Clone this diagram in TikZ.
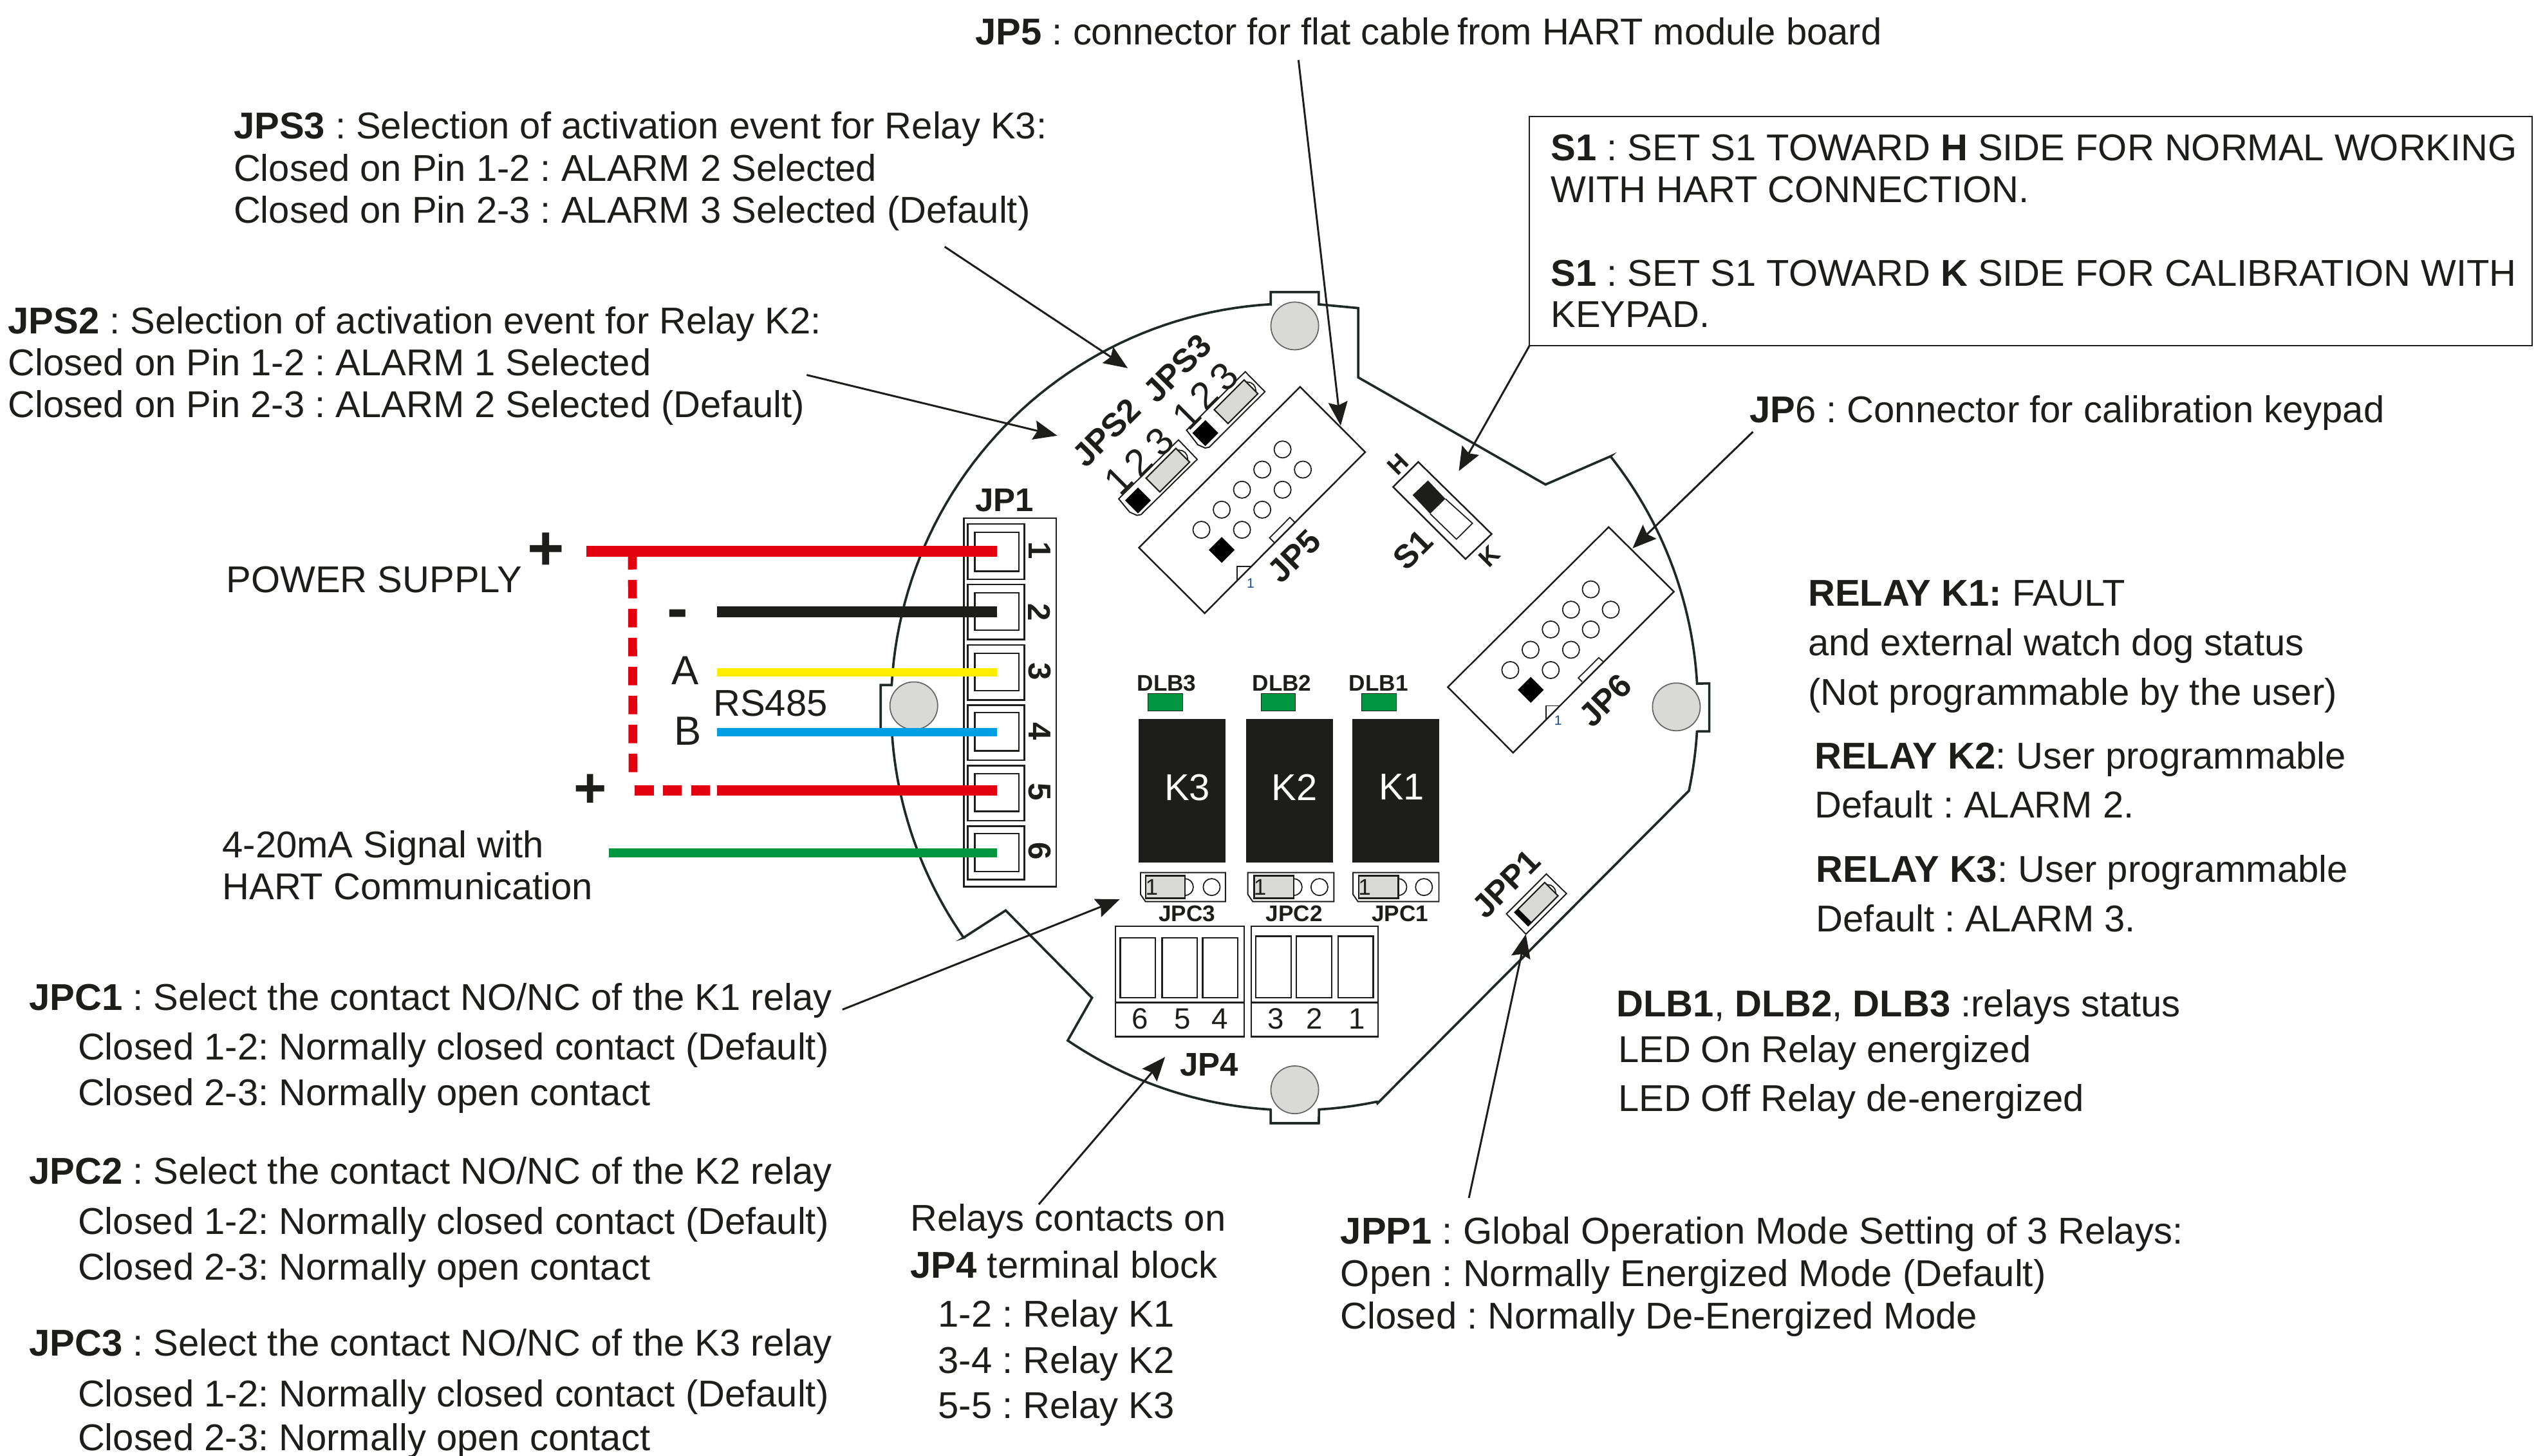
\documentclass[tikz,border=0pt]{standalone}
\usepackage{fontspec}
\setmainfont{Liberation Sans}
\usetikzlibrary{arrows.meta}
\frenchspacing
\definecolor{ink}{HTML}{1D1D1B}
\definecolor{boardline}{HTML}{1F2A27}
\definecolor{holegray}{HTML}{D9DAD8}
\definecolor{wred}{HTML}{E3000F}
\definecolor{wyellow}{HTML}{FFED00}
\definecolor{wblue}{HTML}{009FE3}
\definecolor{wgreen}{HTML}{009640}
\definecolor{pinblue}{HTML}{1D4E89}
\newcommand{\lbl}[4]{\node[txt] (#1) at (#2,#3) {#4};}
\newcommand{\fs}[1]{\fontsize{#1}{#1}\selectfont}
\tikzset{
  txt/.style={anchor=base west,inner sep=0pt,outer sep=0pt,text=ink,font=\fs{16.5}},
  rot/.style={anchor=center,inner sep=0pt,text=ink,rotate=45,font=\fs{14.5}\bfseries},
  ctr/.style={anchor=center,inner sep=0pt,text=ink},
  thin line/.style={draw=ink,line width=0.7pt},
  callout/.style={draw=ink,line width=0.85pt,-{Stealth[length=10.5pt,width=8.5pt,inset=1.5pt]}},
  hole/.style={fill=holegray,draw=gray!80!black,line width=0.5pt},
  pinhole/.style={draw=ink,line width=0.5pt,fill=white},
  jump/.style={fill=holegray,draw=ink,line width=0.6pt},
  relaybox/.style={fill=ink,draw=none},
  led/.style={fill=wgreen,draw=ink,line width=0.3pt},
  wire/.style={line cap=butt},
  blk/.style={fill=black,draw=none}
}
\begin{document}
\begin{tikzpicture}[x=0.0252168cm,y=-0.0252168cm]
\useasboundingbox (0,0) rectangle (1568,897);
% board outline
\draw[draw=boardline,line width=1.05pt,line join=miter]
  (782.9,187.5) -- (782.9,179.9) -- (812.5,179.9) -- (812.5,187.5) -- (836.8,189.8) -- (836.8,232.5)
  -- (952.2,298.5) -- (992.3,281.1)
  -- plot[domain=-38.4:-3.3,samples=30] ({797.5+248.5*cos(\x)},{435.5+248.5*sin(\x)})
  -- (1053.1,421) -- (1053.1,450.6) -- (1046,450.6)
  -- plot[domain=3.5:12,samples=8] ({797.5+248.5*cos(\x)},{435.5+248.5*sin(\x)})
  -- (848.7,679.7)
  -- plot[domain=78.2:86.5,samples=6] ({797.5+248.5*cos(\x)},{435.5+248.5*sin(\x)})
  -- (812.5,692) -- (782.9,692) -- (782.9,684)
  -- plot[domain=93.4:124.2,samples=25] ({797.5+248.5*cos(\x)},{435.5+248.5*sin(\x)})
  -- (672.8,614.7) -- (619.6,560.9) -- (593.6,577.7)
  -- plot[domain=145.1:176.4,samples=25] ({797.5+248.5*cos(\x)},{435.5+248.5*sin(\x)})
  -- (542.6,451) -- (542.6,422) -- (550,422)
  -- plot[domain=183.1:266.6,samples=50] ({797.5+248.5*cos(\x)},{435.5+248.5*sin(\x)})
  -- cycle;
% mounting holes
\foreach \p in {(797.7,200.8),(563,434.8),(1032.8,435.5),(797.7,671.4)} \draw[hole] \p circle (14.7);
% JP1
\draw[thin line,fill=white] (593.9,319.2) rectangle (650.8,546.3);
\foreach \a/\b/\c/\d in {322.7/356.9/327.9/352,360/394/365.2/388.2,397.3/431.2/402.4/425.4,434.4/468.4/439/462.6,471.7/505.7/476.7/499.8,508.9/541.9/513.6/537}{
  \draw[thin line] (596.2,\a) rectangle (631.1,\b);
  \draw[thin line] (600.5,\c) rectangle (627.8,\d);
}
\foreach \n/\y in {1/339,2/377,3/413.5,4/450.5,5/488,6/524.5}
  \node[ctr,rotate=-90,font=\fs{14}\bfseries] (pin\n) at (640.5,\y) {\n};
\node[ctr,font=\fs{14.5}\bfseries] (jp1) at (619,308.2) {JP1};
% wires
\coordinate (wa) at (361.3,339.7); \coordinate (wb) at (614.3,339.7);
\coordinate (wc) at (441.7,377); \coordinate (wd) at (614.3,377);
\coordinate (we) at (441.7,414.2); \coordinate (wf) at (614.3,414.2);
\coordinate (wg) at (441.7,451.1); \coordinate (wh) at (614.3,451.1);
\coordinate (wi) at (441.7,487); \coordinate (wj) at (614.3,487);
\coordinate (wk) at (375,525.4); \coordinate (wl) at (614.3,525.4);
\coordinate (wm) at (389.6,343); \coordinate (wn) at (390,475.7);
\coordinate (wo) at (391,487); \coordinate (wp) at (441,487);
\draw[wire,draw=wred,line width=4.7pt] (wa) -- (wb);
\draw[wire,draw=ink,line width=4.7pt] (wc) -- (wd);
\draw[wire,draw=wyellow,line width=3.5pt] (we) -- (wf);
\draw[wire,draw=wblue,line width=3.9pt] (wg) -- (wh);
\draw[wire,draw=wred,line width=4.7pt] (wi) -- (wj);
\draw[wire,draw=wgreen,line width=4.1pt] (wk) -- (wl);
\draw[wire,draw=wred,line width=3.9pt,dash pattern=on 8.2pt off 4.6pt] (wn) -- (wm);
\draw[wire,draw=wred,line width=4.7pt,dash pattern=on 8.4pt off 4.1pt] (wo) -- (wp);
% wire labels
\lbl{pws}{139.5}{365.2}{POWER SUPPLY}
\node[ctr,font=\fs{28}\bfseries] (plus1) at (336.2,339.7) {+};
\node[ctr,font=\fs{28}\bfseries] (minus) at (417.7,382) {-};
\node[ctr,font=\fs{25}\bfseries] (plus2) at (363.8,487.4) {+};
\node[ctr,font=\fs{18}] (wA) at (422.2,413) {A};
\node[ctr,font=\fs{18}] (wB) at (423.6,450.4) {B};
\lbl{rs}{439.5}{441}{RS485}
\lbl{sig1}{137}{528.5}{4-20mA Signal with}
\lbl{sig2}{137}{554}{HART Communication}
% relays
\foreach \n/\xa/\xb/\xl/\ya/\yb/\tx in {3/701.7/755/731.5/707.3/728.7/718.8,2/767.8/821.4/797.5/777/798/789.8,1/833.2/886.5/863.5/838.8/860.2/849.3}{
  \draw[relaybox] (\xa,443.1) rectangle (\xb,531.4);
  \node[ctr,text=white,font=\fs{16.5}] (k\n) at (\xl,485) {K\n};
  \draw[led] (\ya,427.4) rectangle (\yb,438.1);
  \node[ctr,font=\fs{10}\bfseries] (dlb\n) at (\tx,421) {DLB\n};
}
% JPC jumpers
\foreach \n/\x/\xe/\ja/\jb/\c/\t in {3/702.7/755/706/730/746.5/731.3,2/768.8/821.8/772.7/797/812.9/797.4,1/833.6/886.5/837.2/861.5/877.3/862.5}{
  \draw[thin line,line width=0.55pt] (\x,537.6) -- (\xe,537.6) -- (\xe,555.4) -- ({\x+3},555.4) -- (\x,551) -- cycle;
  \draw[pinhole] (\jb,546.5) circle (5.2);
  \draw[pinhole] (\c,546.5) circle (5.2);
  \draw[jump] (\ja,539.5) rectangle (\jb,553.4);
  \node[ctr,font=\fs{10}] (one\n) at ({\ja+3.6},546.5) {1};
  \node[ctr,font=\fs{10}\bfseries] (jpc\n) at (\t,563) {JPC\n};
}
% JP4
\draw[thin line] (687.3,570.6) rectangle (766.5,638.6);
\draw[thin line] (687.3,617.6) -- (766.5,617.6);
\draw[thin line] (770.8,570.6) rectangle (849,638.6);
\draw[thin line] (770.8,617.6) -- (849,617.6);
\foreach \a/\b in {690.2/711.9,715.9/737.6,740.9/762.5} \draw[thin line] (\a,577.7) rectangle (\b,614.7);
\foreach \a/\b in {773.7/795.4,798.7/820.4,824.4/846.1} \draw[thin line] (\a,576.7) rectangle (\b,614.7);
\foreach \n/\x in {6/702.4,5/728.4,4/751.7,3/786.2,2/809.9,1/836.2}
  \node[ctr,font=\fs{13}] (t\n) at (\x,627.7) {\n};
\node[ctr,font=\fs{14.5}\bfseries] (jp4) at (745,656) {JP4};
% JP5
\draw[thin line,fill=white] (801,238.3) -- (841.1,278.5) -- (742.2,377.8) -- (701.7,337.4) -- cycle;
\foreach \p in {(790.2,276.9),(777.7,289.3),(802.7,289.3),(765.2,301.7),(790.2,301.7),(752.7,314),(777.7,314),(740.2,326.4),(765.2,326.4)}
  \draw[pinhole] \p circle (5.2);
\draw[blk] (752.7,330.8) -- (760.7,338.8) -- (752.7,346.8) -- (744.7,338.8) -- cycle;
\draw[thin line,line width=0.5pt] (797.7,321.8) -- (794.7,318.8) -- (782.2,331.4) -- (785.2,334.4);
\draw[thin line,line width=0.5pt] (762.2,357.8) -- (762.2,348.9) -- (771,348.9);
\node[ctr,text=pinblue,font=\fs{6}] (p5) at (770.5,359.5) {1};
\node[rot] (jp5) at (797.4,342.7) {JP5};
% JP6
\draw[thin line,fill=white] (991.1,324.7) -- (1031.3,364.5) -- (932.2,463.7) -- (892,423.3) -- cycle;
\foreach \p in {(980.1,363.1),(967.9,375.6),(992.4,375.6),(955.4,387.8),(980.1,387.8),(943,400.3),(967.9,400.3),(930.5,412.8),(955.4,412.8)}
  \draw[pinhole] \p circle (5.2);
\draw[blk] (943.1,417) -- (951.1,425) -- (943.1,433) -- (935.1,425) -- cycle;
\draw[thin line,line width=0.5pt] (987.6,407.5) -- (985,405.2) -- (972.4,417.7) -- (974.7,420);
\draw[thin line,line width=0.5pt] (952.4,443.5) -- (952.4,434.8) -- (960.3,434.8);
\node[ctr,text=pinblue,font=\fs{6}] (p6) at (960,444) {1};
\node[rot] (jp6) at (989,431.5) {JP6};
% JPS3
\draw[thin line,line width=0.55pt] (767.2,229) -- (779.3,241.3) -- (745,275.5) -- (742.5,276) -- (738,274) -- (731,265) -- cycle;
\draw[blk] (742.6,258.8) -- (750.6,266.8) -- (742.6,274.8) -- (734.6,266.8) -- cycle;
\draw[pinhole] (768.5,240.5) circle (5.2);
\draw[jump,rotate around={45:(761.5,247.5)}] (748.5,241.5) rectangle (774.5,253.5);
\node[rot,font=\fs{17}\mdseries] (a1) at (731,256) {1};
\node[rot,font=\fs{17}\mdseries] (a2) at (741.8,243.6) {2};
\node[rot,font=\fs{17}\mdseries] (a3) at (754,232) {3};
\node[rot] (jps3) at (725.4,226.8) {JPS3};
% JPS2
\draw[thin line,line width=0.55pt] (726.1,271) -- (737.6,283) -- (703,317) -- (700.5,317.5) -- (696,315.5) -- (689.2,307.3) -- cycle;
\draw[blk] (701.1,300.3) -- (709.1,308.3) -- (701.1,316.3) -- (693.1,308.3) -- cycle;
\draw[pinhole] (726.5,282.5) circle (5.2);
\draw[jump,rotate around={45:(719.5,289.6)}] (706.5,283.6) rectangle (732.5,295.6);
\node[rot,font=\fs{17}\mdseries] (b1) at (689.2,295.8) {1};
\node[rot,font=\fs{17}\mdseries] (b2) at (701.4,284.7) {2};
\node[rot,font=\fs{17}\mdseries] (b3) at (714.6,272) {3};
\node[rot] (jps2) at (681.7,266.6) {JPS2};
% S1
\draw[thin line] (873.8,284.6) -- (919,329) -- (902.9,344.4) -- (858.3,300) -- cycle;
\draw[thin line,line width=0.5pt] (890.5,307.3) -- (907.2,322.4) -- (897.3,332.2) -- (881.1,316.5);
\draw[fill=ink,draw=none] (879.8,296) -- (890.5,307.3) -- (881.1,316.5) -- (870.3,305) -- cycle;
\node[rot,font=\fs{11}\bfseries] (swH) at (861.2,286.2) {H};
\node[rot,font=\fs{11}\bfseries] (swK) at (917.8,342.8) {K};
\node[rot] (s1) at (870.4,338.5) {S1};
% JPP1
\draw[thin line,line width=0.55pt] (952.7,538.4) -- (965.1,550.5) -- (940.1,575.5) -- (928.1,563) -- cycle;
\draw[pinhole] (953.5,550) circle (5);
\draw[jump,rotate around={45:(946.6,557)}] (933.6,551.2) rectangle (959.6,562.8);
\draw[blk,rotate around={45:(946.6,557)}] (933.6,551.2) rectangle (936.6,562.8);
\node[rot] (jpp1) at (928,544.5) {JPP1};
% S1 note box
\draw[thin line] (942.3,71.7) rectangle (1560,213);
\lbl{s1a}{955.5}{99.1}{\textbf{S1} : SET S1 TOWARD \textbf{H} SIDE FOR NORMAL WORKING}
\lbl{s1b}{955.5}{124.8}{WITH HART CONNECTION.}
\lbl{s1c}{955.5}{176.1}{\textbf{S1} : SET S1 TOWARD \textbf{K} SIDE FOR CALIBRATION WITH}
\lbl{s1d}{955.5}{201.8}{KEYPAD.}
% texts
\lbl{jp5t}{601}{27.5}{\textbf{JP5} : connector for flat cable\hspace{3pt}from HART module board}
\lbl{jps3a}{144}{85.5}{\textbf{JPS3} : Selection of activation event for Relay K3:}
\lbl{jps3b}{144}{111.5}{Closed on Pin 1-2 : ALARM 2 Selected}
\lbl{jps3c}{144}{137.5}{Closed on Pin 2-3 : ALARM 3 Selected (Default)}
\lbl{jps2a}{5}{205.5}{\textbf{JPS2} : Selection of activation event for Relay K2:}
\lbl{jps2b}{5}{231.5}{Closed on Pin 1-2 : ALARM 1 Selected}
\lbl{jps2c}{5}{257}{Closed on Pin 2-3 : ALARM 2 Selected (Default)}
\lbl{jp6t}{1078}{260.2}{\textbf{JP}6 : Connector for calibration keypad}
\lbl{k1a}{1114}{373.5}{\textbf{RELAY K1:} FAULT}
\lbl{k1b}{1114}{404}{and external watch dog status}
\lbl{k1c}{1114}{434.5}{(Not programmable by the user)}
\lbl{k2a}{1118}{473.5}{\textbf{RELAY K2}: User programmable}
\lbl{k2b}{1118}{504}{Default : ALARM 2.}
\lbl{k3a}{1119}{543.5}{\textbf{RELAY K3}: User programmable}
\lbl{k3b}{1119}{574}{Default : ALARM 3.}
\lbl{dl1}{996}{626.5}{\textbf{DLB1}, \textbf{DLB2}, \textbf{DLB3} :relays status}
\lbl{dl2}{997}{654.5}{LED On Relay energized}
\lbl{dl3}{997}{684.5}{LED Off Relay de-energized}
\lbl{pp1}{826}{766.5}{\textbf{JPP1} : Global Operation Mode Setting of 3 Relays:}
\lbl{pp2}{826}{792.5}{Open : Normally Energized Mode (Default)}
\lbl{pp3}{826}{818.5}{Closed : Normally De-Energized Mode}
\lbl{c1a}{18}{622.5}{\textbf{JPC1} : Select the contact NO/NC of the K1 relay}
\lbl{c1b}{48}{653}{Closed 1-2: Normally closed contact (Default)}
\lbl{c1c}{48}{681}{Closed 2-3: Normally open contact}
\lbl{c2a}{18}{729.5}{\textbf{JPC2} : Select the contact NO/NC of the K2 relay}
\lbl{c2b}{48}{760.5}{Closed 1-2: Normally closed contact (Default)}
\lbl{c2c}{48}{788.5}{Closed 2-3: Normally open contact}
\lbl{c3a}{18}{835.5}{\textbf{JPC3} : Select the contact NO/NC of the K3 relay}
\lbl{c3b}{48}{866.5}{Closed 1-2: Normally closed contact (Default)}
\lbl{c3c}{48}{893.5}{Closed 2-3: Normally open contact}
\lbl{r1}{561}{758.5}{Relays contacts on}
\lbl{r2}{561}{787.5}{\textbf{JP4} terminal block}
\lbl{r3}{578}{817.5}{1-2 : Relay K1}
\lbl{r4}{578}{846}{3-4 : Relay K2}
\lbl{r5}{578}{874}{5-5 : Relay K3}
% callouts
\coordinate (c1s) at (582,152);   \coordinate (c1e) at (694.8,226.8);
\coordinate (c2s) at (497,231);   \coordinate (c2e) at (651.4,268.4);
\coordinate (c3s) at (800,37);    \coordinate (c3e) at (826,262.2);
\coordinate (c4s) at (942.3,213); \coordinate (c4e) at (898.8,290.2);
\coordinate (c5s) at (1080,266);  \coordinate (c5e) at (1005.8,337.8);
\coordinate (c6s) at (519,622);   \coordinate (c6e) at (689.9,554);
\coordinate (c7s) at (640,742);   \coordinate (c7e) at (717.8,651.2);
\coordinate (c8s) at (905,738);   \coordinate (c8e) at (940.1,575.5);
\foreach \i in {1,...,8} \draw[callout] (c\i s) -- (c\i e);
\end{tikzpicture}
\end{document}
